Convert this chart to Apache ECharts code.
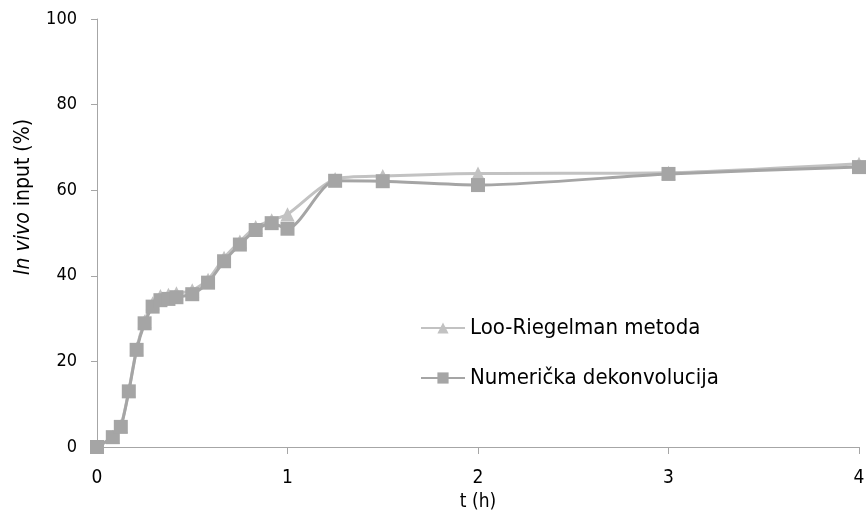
<!DOCTYPE html>
<html>
<head>
<meta charset="utf-8">
<script src="https://cdn.jsdelivr.net/npm/echarts@6/dist/echarts.min.js"></script>
<style>
  html, body { margin: 0; padding: 0; background: #fff; }
  #graf { width: 868px; height: 517px; }
</style>
</head>
<body>
<div id="graf"></div>
<script>
// vrijeme uzorkovanja (h)
const vrijeme = [0, 0.083, 0.125, 0.167, 0.208, 0.25, 0.292, 0.333, 0.375, 0.417, 0.5,
  0.583, 0.667, 0.75, 0.833, 0.917, 1, 1.25, 1.5, 2, 3, 4];
// in vivo input (%)
const looRiegelman = [0, 2.4, 4.9, 13.2, 23.0, 29.4, 33.6, 35.3, 35.6, 35.9, 36.6,
  39.1, 44.2, 48.0, 51.4, 53.0, 54.4, 62.6, 63.3, 63.9, 64.1, 66.2];
const numericka = [0, 2.3, 4.7, 13.0, 22.7, 28.9, 32.8, 34.3, 34.6, 35.0, 35.7,
  38.4, 43.4, 47.3, 50.7, 52.3, 51.0, 62.2, 62.1, 61.2, 63.8, 65.4];
const yTicks = [0, 20, 40, 60, 80, 100];

const font = "'Liberation Sans Narrow', 'DejaVu Sans Condensed', sans-serif";
const tinta = "#000";
const osovina = "#a6a6a6";

const parovi = (ys) => vrijeme.map((t, i) => [t, ys[i]]);

const chart = echarts.init(document.getElementById("graf"), null, { renderer: "canvas" });
chart.setOption({
  animation: false,
  textStyle: { fontFamily: font, color: tinta },
  grid: { left: 97, right: 9, top: 19, bottom: 70 },
  legend: {
    orient: "vertical",
    left: 415,
    top: 312,
    itemWidth: 44,
    itemHeight: 14,
    itemGap: 28,
    textStyle: { fontFamily: font, fontSize: 22, color: tinta },
    data: ["Loo-Riegelman metoda", "Numerička dekonvolucija"],
  },
  xAxis: {
    type: "value",
    min: 0,
    max: 4,
    interval: 1,
    name: "t (h)",
    nameLocation: "middle",
    nameGap: 44,
    nameTextStyle: { fontFamily: font, fontSize: 19, color: tinta },
    axisLine: { lineStyle: { color: osovina, width: 1 } },
    axisTick: { show: true, length: 7, lineStyle: { color: osovina } },
    axisLabel: { fontFamily: font, fontSize: 19, color: tinta, margin: 22 },
    splitLine: { show: false },
  },
  yAxis: {
    type: "value",
    min: yTicks[0],
    max: yTicks[yTicks.length - 1],
    interval: 20,
    name: "{i|In vivo} input (%)",
    nameLocation: "middle",
    nameGap: 63,
    nameRotate: 90,
    nameTextStyle: {
      fontFamily: font, fontSize: 21, color: tinta,
      padding: [0, 0, 0, 72],
      rich: { i: { fontStyle: "italic", fontFamily: font, fontSize: 21, color: tinta } },
    },
    axisLine: { show: true, lineStyle: { color: osovina, width: 1 } },
    axisTick: { show: true, length: 6, lineStyle: { color: osovina } },
    axisLabel: { fontFamily: font, fontSize: 18, color: tinta, margin: 20 },
    splitLine: { show: false },
  },
  series: [
    {
      name: "Loo-Riegelman metoda",
      type: "line",
      data: parovi(looRiegelman),
      smooth: 0.25,
      symbol: "triangle",
      symbolSize: 14,
      itemStyle: { color: "#c2c2c2" },
      lineStyle: { color: "#c2c2c2", width: 3 },
      z: 2,
    },
    {
      name: "Numerička dekonvolucija",
      type: "line",
      data: parovi(numericka),
      smooth: 0.25,
      symbol: "rect",
      symbolSize: 14,
      itemStyle: { color: "#a5a5a5" },
      lineStyle: { color: "#a5a5a5", width: 3 },
      z: 3,
    },
  ],
});
</script>
</body>
</html>
